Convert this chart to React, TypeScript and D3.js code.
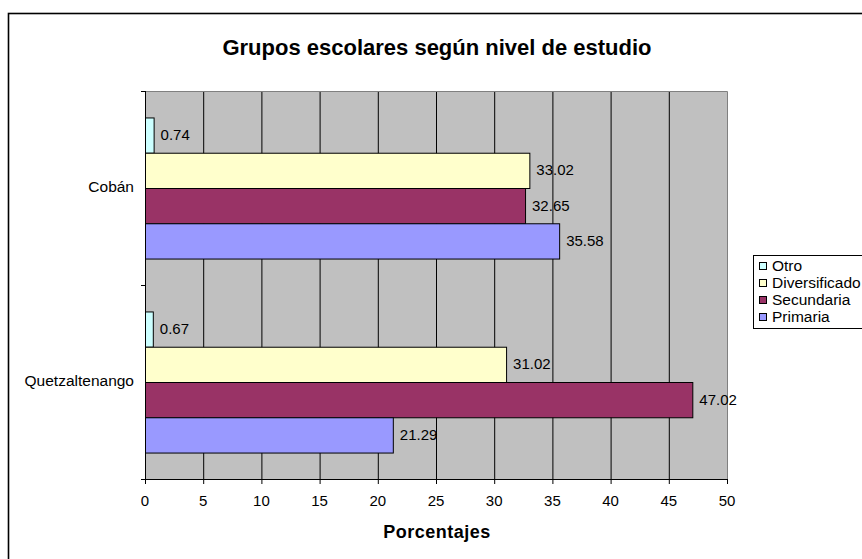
import React from "react";
import * as d3 from "d3";

// Percentages by city and school level
const cities = ["Cobán", "Quetzaltenango"];
const levels = ["Otro", "Diversificado", "Secundaria", "Primaria"];
const otro = [0.74, 0.67];
const diversificado = [33.02, 31.02];
const secundaria = [32.65, 47.02];
const primaria = [35.58, 21.29];
const xTicks = [0, 5, 10, 15, 20, 25, 30, 35, 40, 45, 50];
const levelColors = ["#CCFFFF", "#FFFFCC", "#993366", "#9999FF"];

const seriesValues = [otro, diversificado, secundaria, primaria];

const W = 862;
const H = 559;
const plot = { left: 145, right: 727, top: 91, bottom: 479 };
const FONT = "'Liberation Sans', Arial, sans-serif";

export default function App() {
  const x = d3.scaleLinear().domain([0, 50]).range([plot.left, plot.right]);
  const yCity = d3
    .scaleBand<string>()
    .domain(cities)
    .range([plot.top, plot.bottom])
    .paddingInner(0)
    .paddingOuter(0);
  // gap width 150% of one bar on the outside of each group
  const yLevel = d3
    .scaleBand<string>()
    .domain(levels)
    .range([0, yCity.bandwidth()])
    .paddingInner(0)
    .paddingOuter(0.75);

  const legendItems = levels;
  const legendY = d3.scalePoint<string>().domain(legendItems).range([266, 317]);

  return (
    <svg
      width={W}
      height={H}
      style={{ position: "absolute", left: 0, top: 0, background: "#fff" }}
      fontFamily={FONT}
    >
      {/* chart frame */}
      <rect x={8.5} y={13.5} width={900} height={600} fill="#fff" stroke="#000" strokeWidth={1.6} />

      <text x={437} y={55} textAnchor="middle" fontSize={22} fontWeight="bold">
        Grupos escolares según nivel de estudio
      </text>

      {/* plot background */}
      <rect
        x={plot.left}
        y={plot.top}
        width={plot.right - plot.left}
        height={plot.bottom - plot.top}
        fill="#C0C0C0"
      />
      {/* vertical gridlines */}
      {xTicks.slice(1, -1).map((t) => (
        <line key={t} x1={x(t) + 0.5} x2={x(t) + 0.5} y1={plot.top} y2={plot.bottom} stroke="#000" strokeWidth={1} />
      ))}
      {/* plot border top/right */}
      <path
        d={`M${plot.left},${plot.top + 0.5}H${plot.right + 0.5}V${plot.bottom}`}
        fill="none"
        stroke="#808080"
        strokeWidth={1}
      />

      {/* bars */}
      {cities.map((c, ci) =>
        levels.map((lv, li) => {
          const v = seriesValues[li][ci];
          const y0 = (yCity(c) as number) + (yLevel(lv) as number);
          const bh = yLevel.bandwidth();
          return (
            <g key={c + lv}>
              <rect
                x={x(0) + 0.5}
                y={y0 + 0.5}
                width={x(v) - x(0)}
                height={bh}
                fill={levelColors[li]}
                stroke="#000"
                strokeWidth={1}
              />
              <text x={x(v) + 7} y={y0 + bh / 2 + 1} dominantBaseline="middle" fontSize={15} fill="#000">
                {v.toFixed(2)}
              </text>
            </g>
          );
        })
      )}

      {/* axes */}
      <line x1={plot.left + 0.5} x2={plot.left + 0.5} y1={plot.top} y2={plot.bottom + 0.5} stroke="#000" />
      <line x1={plot.left - 4} x2={plot.right + 0.5} y1={plot.bottom + 0.5} y2={plot.bottom + 0.5} stroke="#000" />
      {[plot.top, plot.top + yCity.bandwidth(), plot.bottom].map((yy, i) => (
        <line key={i} x1={plot.left - 4} x2={plot.left} y1={yy + 0.5} y2={yy + 0.5} stroke="#000" />
      ))}
      {xTicks.map((t) => (
        <g key={t}>
          <line x1={x(t) + 0.5} x2={x(t) + 0.5} y1={plot.bottom} y2={plot.bottom + 5} stroke="#000" />
          <text x={x(t)} y={506} textAnchor="middle" fontSize={15}>
            {t}
          </text>
        </g>
      ))}
      {cities.map((c) => (
        <text
          key={c}
          x={134}
          y={(yCity(c) as number) + yCity.bandwidth() / 2}
          textAnchor="end"
          dominantBaseline="middle"
          fontSize={15.5}
        >
          {c}
        </text>
      ))}

      <text x={437} y={538} textAnchor="middle" fontSize={18} fontWeight="bold" letterSpacing={0.5}>
        Porcentajes
      </text>

      {/* legend */}
      <rect x={753.5} y={255.5} width={130} height={73} fill="#fff" stroke="#000" strokeWidth={1} />
      {legendItems.map((lv, i) => {
        const cy = legendY(lv) as number;
        return (
          <g key={lv}>
            <rect x={759.5} y={cy - 3.5} width={7} height={7} fill={levelColors[i]} stroke="#000" strokeWidth={1} />
            <text x={772} y={cy + 1} dominantBaseline="middle" fontSize={15.5}>
              {lv}
            </text>
          </g>
        );
      })}
    </svg>
  );
}
